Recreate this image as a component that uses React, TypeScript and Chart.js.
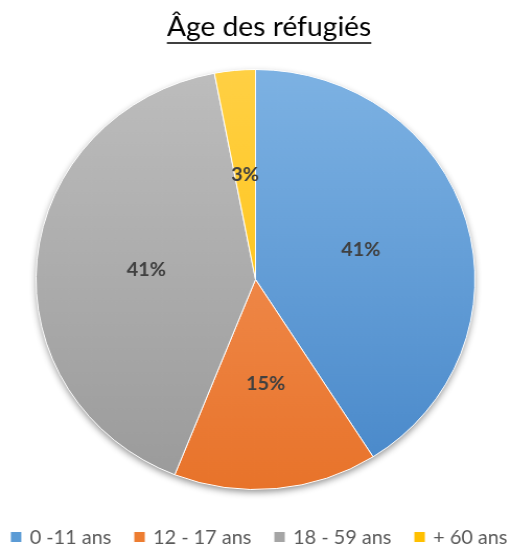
import React, { useEffect, useRef } from "react";
import { Chart, registerables } from "chart.js";

Chart.register(...registerables);

const titleText = "Âge des réfugiés";
const categories = ["0 -11 ans", "12 - 17 ans", "18 - 59 ans", "+ 60 ans"];
const values = [41, 15, 41, 3];
const colorsTop = ["#7DB2E3", "#F59A63", "#BDBDBD", "#FFD044"];
const colorsBottom = ["#4787C9", "#E8732A", "#9A9A9A", "#FFBE00"];
const legendColors = ["#5B9BD5", "#ED7D31", "#A5A5A5", "#FFC000"];

const FONT = "Lato, 'Open Sans', sans-serif";
const W = 489; // internal width, stretched to 511 css px
const H = 544;

const shadowPlugin = {
  id: "pieShadow",
  beforeDatasetsDraw(chart: any) {
    const arc = chart.getDatasetMeta(0).data[0];
    if (!arc) return;
    const ctx = chart.ctx;
    ctx.save();
    ctx.shadowColor = "rgba(0,0,0,0.45)";
    ctx.shadowBlur = 7;
    ctx.shadowOffsetY = 3;
    ctx.fillStyle = "#ffffff";
    ctx.beginPath();
    ctx.arc(arc.x, arc.y, arc.outerRadius - 0.5, 0, Math.PI * 2);
    ctx.fill();
    ctx.restore();
  },
};

const labelPlugin = {
  id: "sliceLabels",
  afterDatasetsDraw(chart: any) {
    const ctx = chart.ctx;
    const meta = chart.getDatasetMeta(0);
    const ds = chart.data.datasets[0];
    const total = (ds.data as number[]).reduce((a, b) => a + b, 0);
    ctx.save();
    ctx.font = `bold 19px ${FONT}`;
    ctx.fillStyle = "#404040";
    ctx.textAlign = "center";
    ctx.textBaseline = "middle";
    meta.data.forEach((arc: any, i: number) => {
      const p = arc.getCenterPoint();
      const pct = Math.round(((ds.data[i] as number) / total) * 100);
      ctx.fillText(pct + "%", p.x, p.y);
    });
    ctx.restore();
  },
};

const titleLegendPlugin = {
  id: "titleLegend",
  afterDraw(chart: any) {
    const ctx = chart.ctx;
    ctx.save();
    // title
    ctx.font = `27px ${FONT}`;
    ctx.fillStyle = "#000000";
    ctx.textAlign = "center";
    ctx.textBaseline = "alphabetic";
    const tx = 257.5;
    ctx.fillText(titleText, tx, 36);
    const w = ctx.measureText(titleText).width;
    ctx.strokeStyle = "#000000";
    ctx.lineWidth = 1.5;
    ctx.beginPath();
    ctx.moveTo(tx - w / 2, 43);
    ctx.lineTo(tx + w / 2, 43);
    ctx.stroke();

    // legend
    ctx.font = `19px ${FONT}`;
    ctx.textAlign = "left";
    ctx.textBaseline = "middle";
    const box = 10;
    const gapBox = 8;
    const gapItem = 22;
    const widths = categories.map((t) => ctx.measureText(t).width);
    const total =
      widths.reduce((a, b) => a + b, 0) + categories.length * (box + gapBox) + (categories.length - 1) * gapItem;
    let x = 248 - total / 2;
    const y = 537;
    categories.forEach((t, i) => {
      ctx.fillStyle = legendColors[i];
      ctx.fillRect(x, y - box / 2, box, box);
      x += box + gapBox;
      ctx.fillStyle = "#595959";
      ctx.fillText(t, x, y + 0.5);
      x += widths[i] + gapItem;
    });
    ctx.restore();
  },
};

export default function App() {
  const ref = useRef<HTMLCanvasElement>(null);
  useEffect(() => {
    document.body.style.margin = "0";
    const canvas = ref.current!;
    const chart = new Chart(canvas, {
      type: "pie",
      data: {
        labels: categories,
        datasets: [
          {
            data: values,
            backgroundColor: (c: any) => {
              const ch = c.chart;
              const area = ch.chartArea;
              const i = c.dataIndex;
              if (!area || i === undefined) return legendColors[i ?? 0];
              const g = ch.ctx.createLinearGradient(0, area.top, 0, area.bottom);
              g.addColorStop(0, colorsTop[i]);
              g.addColorStop(1, colorsBottom[i]);
              return g;
            },
            borderColor: "#ffffff",
            borderWidth: 1,
          },
        ],
      },
      options: {
        animation: false,
        responsive: false,
        maintainAspectRatio: false,
        layout: { padding: { left: 0, right: 0, top: 69, bottom: 54 } },
        plugins: {
          title: { display: false },
          legend: { display: false },
          tooltip: { enabled: false },
        },
      },
      plugins: [shadowPlugin, labelPlugin, titleLegendPlugin],
    });
    return () => chart.destroy();
  }, []);
  return (
    <div style={{ position: "fixed", left: 0, top: 0, width: 511, height: 544, background: "#fff" }}>
      <canvas ref={ref} width={W} height={H} style={{ width: 511, height: 544, display: "block" }} />
    </div>
  );
}
